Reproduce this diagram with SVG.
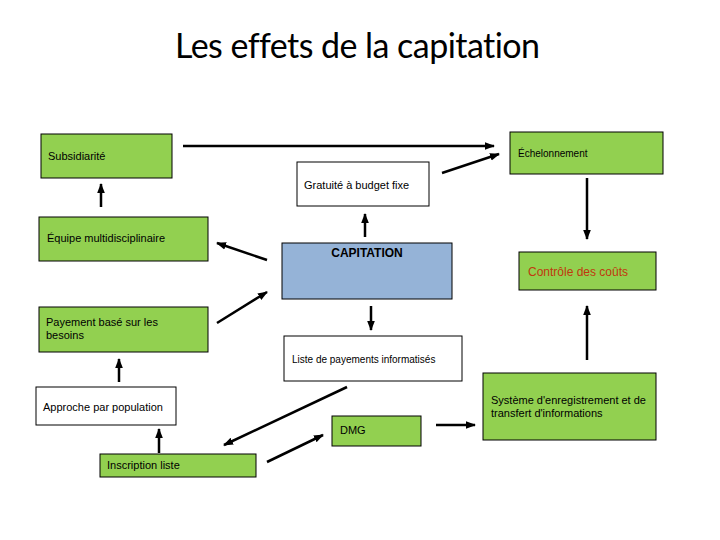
<svg xmlns="http://www.w3.org/2000/svg" width="720" height="540" viewBox="0 0 720 540">
<style>
  .box{stroke:#000;stroke-width:1}
  .g{fill:#92D050}
  .w{fill:#fff}
  .b{fill:#95B3D7}
  text{font-family:"Liberation Sans",Arial,sans-serif;fill:#000}
  .t11{font-size:11px}
  .t10{font-size:10px}
  .title{font-size:34px;font-family:Lato,"Open Sans",sans-serif;font-variant-ligatures:none;font-feature-settings:"liga" 0,"dlig" 0}
  .arr{stroke:#000;stroke-width:2.5;fill:none;marker-end:url(#ah)}
</style>
<defs>
  <marker id="ah" markerUnits="userSpaceOnUse" markerWidth="10" markerHeight="10" viewBox="0 0 10 10" refX="9" refY="5" orient="auto">
    <path d="M0,1.2 L10,5 L0,8.8 Z" fill="#000"/>
  </marker>
</defs>
<rect width="720" height="540" fill="#fff"/>
<text class="title" x="175" y="58" textLength="365" lengthAdjust="spacing">Les effets de la capitation</text>

<g id="subsidiarite"><rect class="box g" x="41" y="134" width="131" height="44"/><text class="t11" x="48" y="160">Subsidiarité</text></g>
<g id="echelonnement"><rect class="box g" x="510" y="132" width="153" height="42"/><text class="t10" x="518" y="157">Échelonnement</text></g>
<g id="gratuite"><rect class="box w" x="297" y="162" width="132" height="44"/><text class="t11" x="304" y="189">Gratuité à budget fixe</text></g>
<g id="equipe"><rect class="box g" x="39" y="217" width="169" height="44"/><text class="t11" x="47" y="242">Équipe multidisciplinaire</text></g>
<g id="capitation"><rect class="box b" x="282" y="243" width="170" height="56"/><text x="367" y="257" text-anchor="middle" style="font-size:12px;font-weight:bold">CAPITATION</text></g>
<g id="controle"><rect class="box g" x="519" y="252" width="137" height="38"/><text x="528" y="276" style="font-size:12px;fill:#C0380E">Contrôle des coûts</text></g>
<g id="payement"><rect class="box g" x="39" y="307" width="169" height="45"/><text class="t11" x="46" y="326">Payement  basé sur les</text><text class="t11" x="46" y="339">besoins</text></g>
<g id="liste"><rect class="box w" x="284" y="336" width="178" height="45"/><text class="t10" x="292" y="363">Liste de payements informatisés</text></g>
<g id="approche"><rect class="box w" x="36" y="387" width="140" height="38"/><text class="t11" x="43" y="411">Approche par population</text></g>
<g id="systeme"><rect class="box g" x="483" y="373" width="173" height="67"/><text class="t11" x="491" y="404">Système d'enregistrement et de</text><text class="t11" x="491" y="417">transfert d'informations</text></g>
<g id="dmg"><rect class="box g" x="332" y="416" width="89" height="30"/><text class="t11" x="340" y="434">DMG</text></g>
<g id="inscription"><rect class="box g" x="100" y="454" width="156" height="23"/><text class="t11" x="107" y="469">Inscription  liste</text></g>

<g id="connectors">
  <line class="arr" x1="183" y1="146" x2="494" y2="146"/>
  <line class="arr" x1="442" y1="173" x2="499" y2="154"/>
  <line class="arr" x1="587" y1="178" x2="587" y2="239"/>
  <line class="arr" x1="587" y1="360" x2="587" y2="306"/>
  <line class="arr" x1="101" y1="207" x2="101" y2="184"/>
  <line class="arr" x1="267" y1="260" x2="217" y2="243"/>
  <line class="arr" x1="217" y1="323" x2="267" y2="292"/>
  <line class="arr" x1="365" y1="237" x2="365" y2="214"/>
  <line class="arr" x1="371" y1="306" x2="371" y2="330"/>
  <line class="arr" x1="119" y1="382" x2="119" y2="359"/>
  <line class="arr" x1="159" y1="453" x2="159" y2="429"/>
  <line class="arr" x1="347" y1="387" x2="224" y2="445"/>
  <line class="arr" x1="267" y1="462" x2="323" y2="435"/>
  <line class="arr" x1="436" y1="425" x2="475" y2="425"/>
</g>
</svg>
